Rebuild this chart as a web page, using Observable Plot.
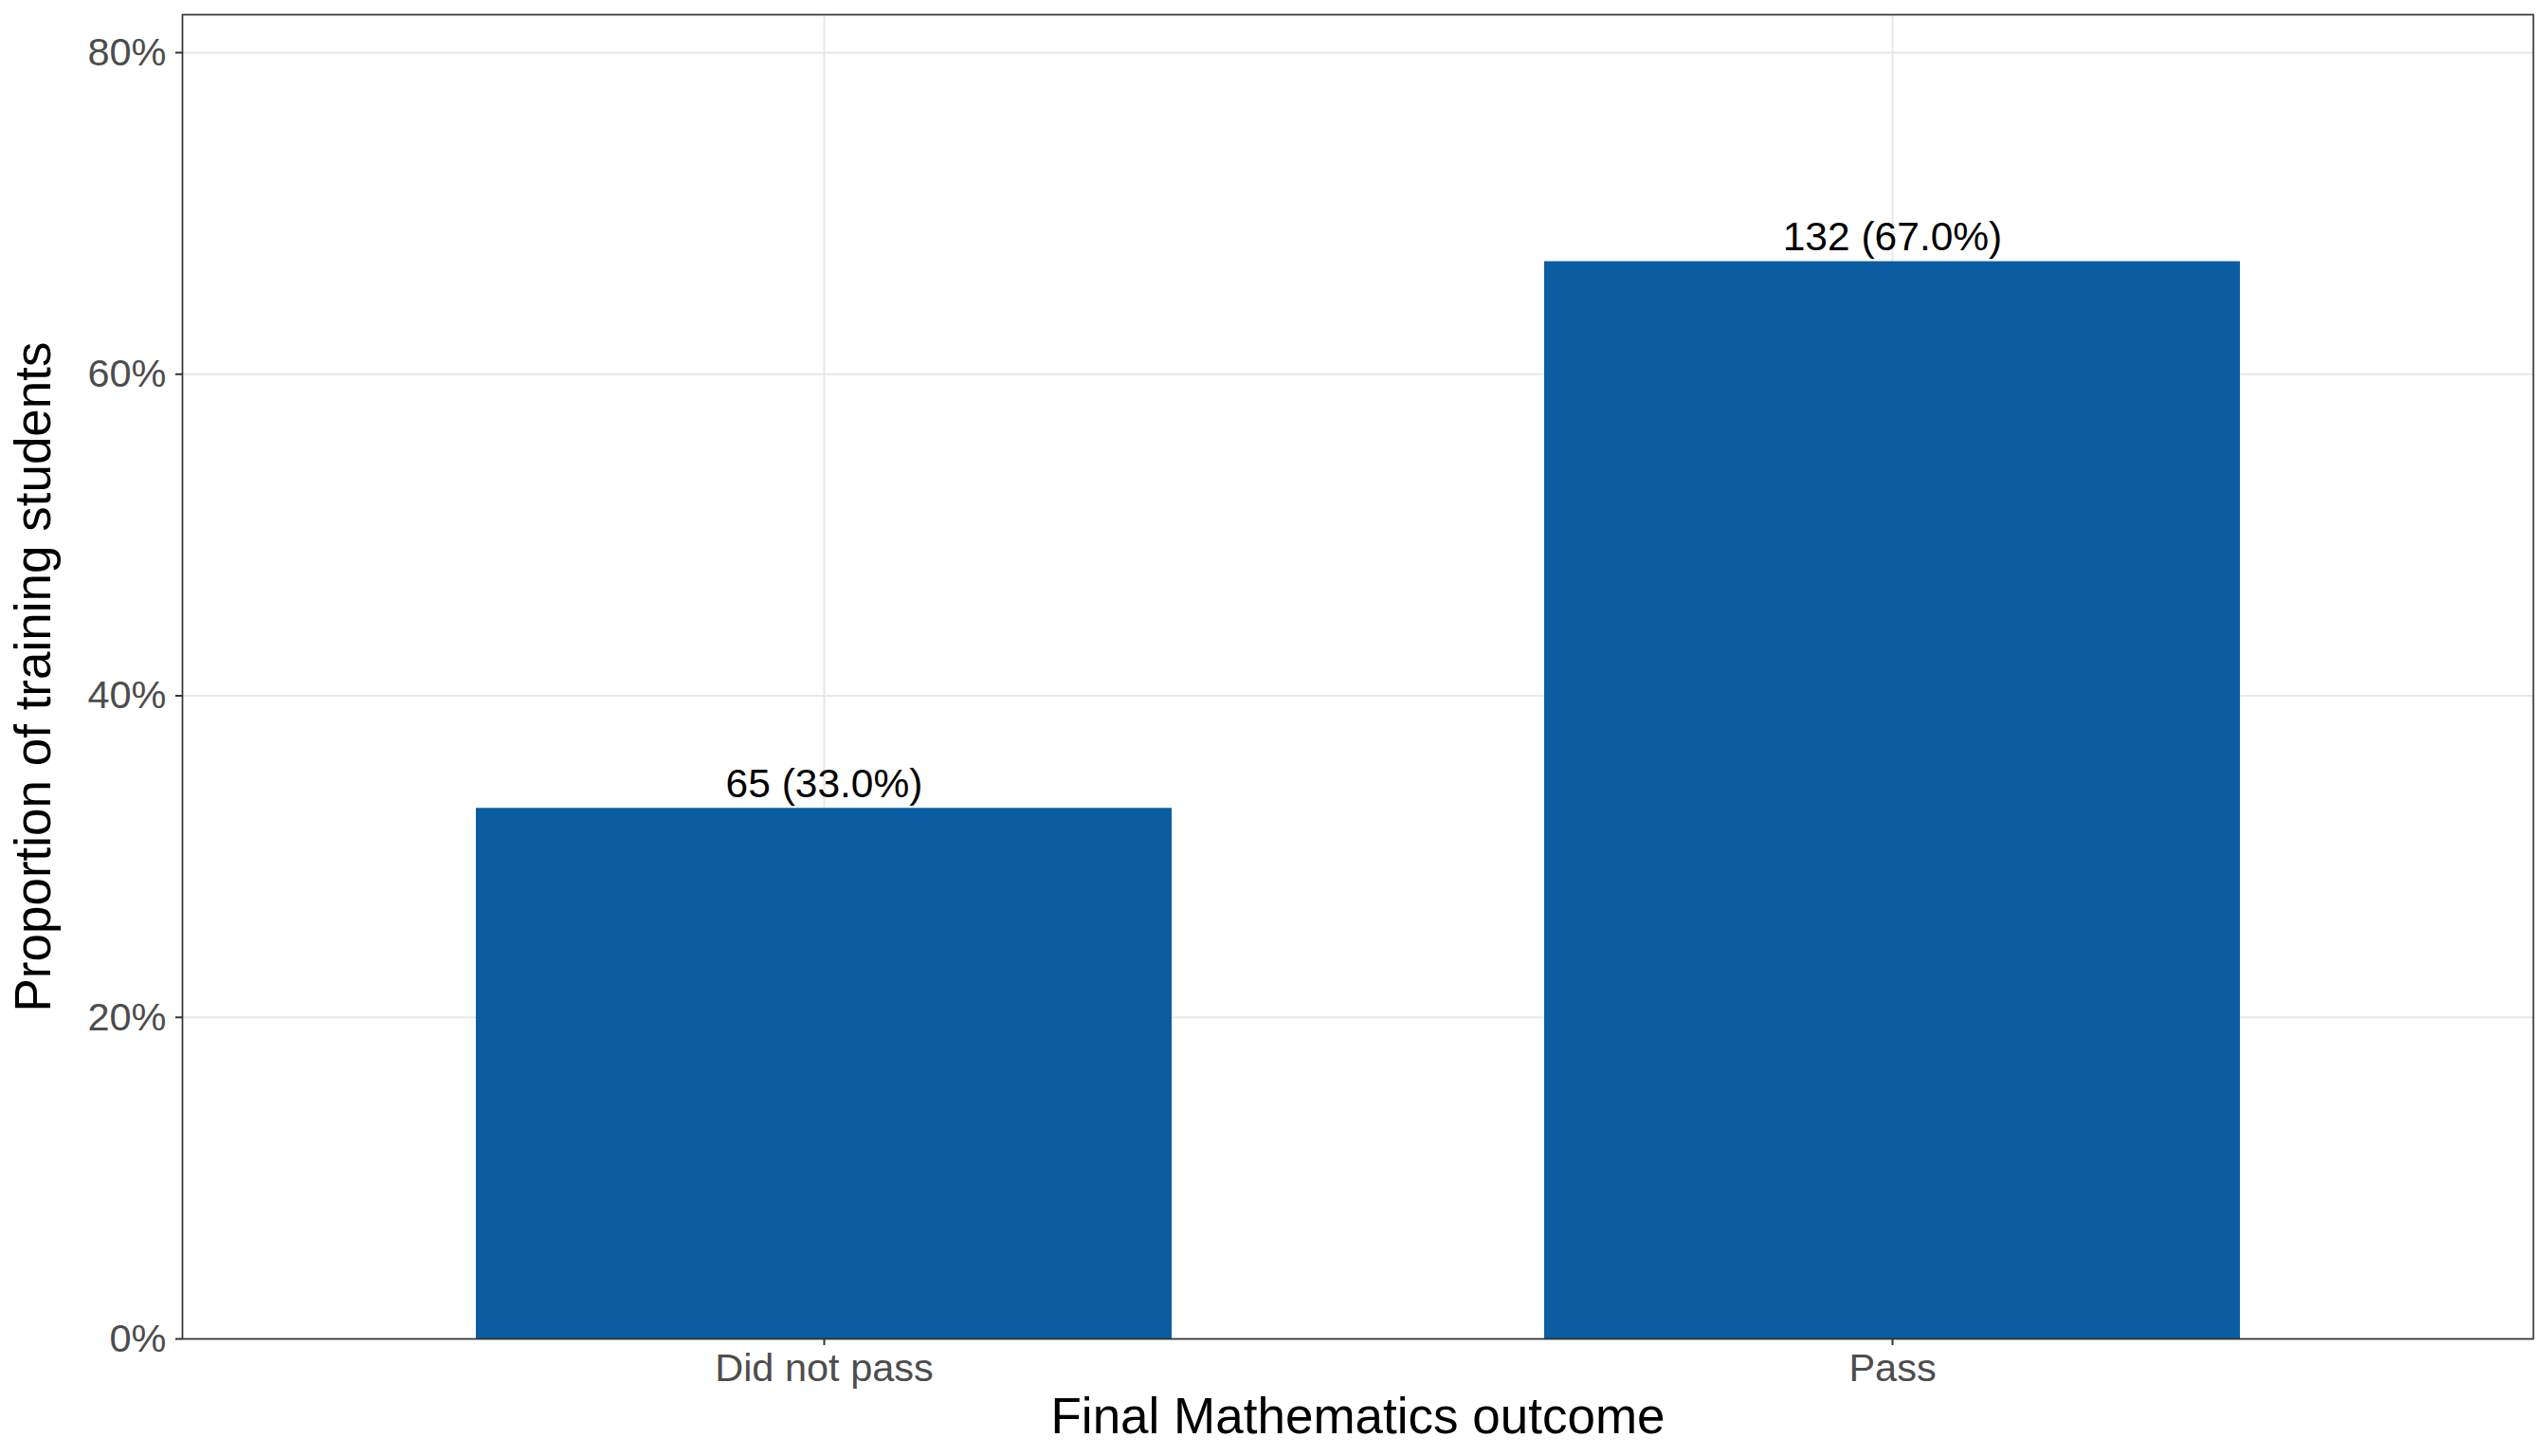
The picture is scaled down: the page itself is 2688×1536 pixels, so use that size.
<!DOCTYPE html>
<html>
<head>
<meta charset="utf-8">
<script src="https://cdn.jsdelivr.net/npm/d3@7"></script>
<script src="https://cdn.jsdelivr.net/npm/@observablehq/plot@0.6"></script>
<style>
  html, body { margin: 0; padding: 0; background: #fff; }
  #chart { width: 2688px; height: 1536px; }
</style>
</head>
<body>
<div id="chart"></div>
<script>
const categories = ["Did not pass", "Pass"];
const counts = [65, 132];
const proportions = [0.33, 0.67];
const yTicks = [0, 0.2, 0.4, 0.6, 0.8];
const xTitle = "Final Mathematics outcome";
const yTitle = "Proportion of training students";

const data = categories.map((c, i) => ({
  outcome: c,
  n: counts[i],
  p: proportions[i],
  label: `${counts[i]} (${(proportions[i] * 100).toFixed(1)}%)`
}));

const FONT = "'Liberation Sans', Arial, sans-serif";

const chart = Plot.plot({
  width: 2688,
  height: 1536,
  marginLeft: 192,
  marginRight: 16,
  marginTop: 15,
  marginBottom: 124,
  style: { fontFamily: FONT, background: "#fff", overflow: "visible" },
  x: { domain: categories, paddingInner: 0.349, paddingOuter: 0.2745, label: null },
  y: { domain: [0, 0.8236], label: null },
  marks: [
    Plot.gridY(yTicks, { stroke: "#E9E9E9", strokeOpacity: 1, strokeWidth: 2.2 }),
    Plot.gridX(categories, { stroke: "#E9E9E9", strokeOpacity: 1, strokeWidth: 2.2 }),
    Plot.barY(data, { x: "outcome", y: "p", fill: "#0B5DA1" }),
    Plot.text(data, {
      x: "outcome", y: "p", text: "label",
      lineAnchor: "bottom", dy: -12, fontSize: 42.5, fill: "#000"
    }),
    Plot.frame({ stroke: "#333333", strokeWidth: 1.7 }),
    Plot.axisY(yTicks, {
      tickFormat: d => Math.round(d * 100) + "%",
      fontSize: 41.5, tickSize: 7, tickPadding: 10,
      stroke: "#333333", strokeWidth: 2, fill: "#4D4D4D", label: null
    }),
    Plot.axisX(categories, {
      fontSize: 41.5, tickSize: 7, tickPadding: 8,
      stroke: "#333333", strokeWidth: 2, fill: "#4D4D4D", label: null
    }),
    Plot.text([xTitle], {
      frameAnchor: "bottom", dy: 99, lineAnchor: "bottom", textAnchor: "middle",
      fontSize: 53, fill: "#000"
    }),
    Plot.text([yTitle], {
      frameAnchor: "left", dx: -140, rotate: -90, lineAnchor: "bottom", textAnchor: "middle",
      fontSize: 53, fill: "#000"
    })
  ]
});

document.getElementById("chart").appendChild(chart);
</script>
</body>
</html>
